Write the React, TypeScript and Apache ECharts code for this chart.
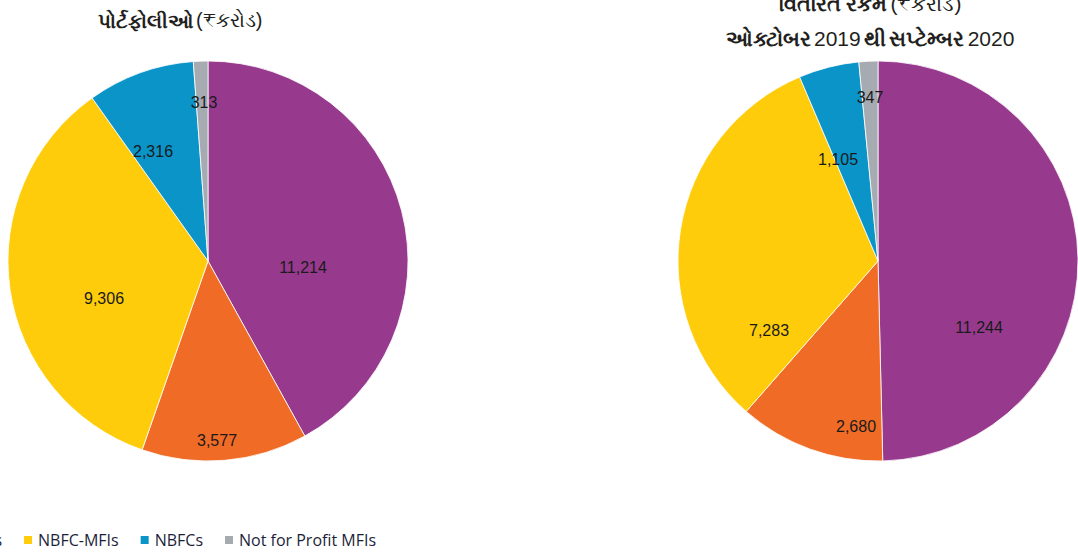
import React, { useEffect, useRef } from "react";
import * as echarts from "echarts";

const categories = ["Banks", "SFBs", "NBFC-MFIs", "NBFCs", "Not for Profit MFIs"];
const portfolioValues = [11214, 3577, 9306, 2316, 313];
const disbursedValues = [11244, 2680, 7283, 1105, 347];
const colors = ["#973A8E", "#F06B26", "#FECC0A", "#0B94C8", "#A6AAB1"];
const leftTitle = "પોર્ટફોલીઓ";
const rightTitleLine1 = "વિતરિત રકમ";
const rightTitleLine2a = "ઓક્ટોબર";
const rightTitleLine2b = "થી";
const rightTitleLine2c = "સપ્ટેમ્બર";

// label anchor placement, as fractions of the pie radius from the pie centre
const leftLabelAnchors = [
  [0.475, 0.03],
  [0.045, 0.895],
  [-0.52, 0.185],
  [-0.275, -0.55],
  [-0.02, -0.795],
];
const rightLabelAnchors = [
  [0.505, 0.33],
  [-0.11, 0.825],
  [-0.545, 0.345],
  [-0.2, -0.51],
  [-0.04, -0.82],
];

const fmt = (v: number) => v.toLocaleString("en-US");

export default function App() {
  const ref = useRef<HTMLDivElement>(null);
  useEffect(() => {
    if (!ref.current) return;
    const chart = echarts.init(ref.current, undefined, { renderer: "svg" });
    const R = 200;
    const mkData = (vals: number[]) =>
      categories.map((c, i) => ({ name: c, value: vals[i], itemStyle: { color: colors[i] } }));
    const mkPie = (name: string, cx: number, cy: number, vals: number[], anchors: number[][]) => ({
      type: "pie" as const,
      name,
      center: [cx, cy],
      radius: R,
      startAngle: 90,
      clockwise: true,
      avoidLabelOverlap: false,
      itemStyle: { borderColor: "#ffffff", borderWidth: 0.8 },
      label: {
        show: true,
        position: "outside",
        formatter: (p: any) => fmt(p.value),
        fontFamily: "Liberation Sans, Arial, sans-serif",
        fontSize: 16,
        color: "#1a1a1a",
      },
      labelLine: { show: false },
      labelLayout: (p: any) => {
        const a = anchors[p.dataIndex];
        return {
          x: cx + a[0] * R,
          y: cy + a[1] * R,
          align: "center",
          verticalAlign: "middle",
        };
      },
      emphasis: { disabled: true },
      data: mkData(vals),
    });
    const bold = { fontFamily: "Noto Sans, sans-serif", fontSize: 20, fontWeight: "bold" as const, fill: "#231F20" };
    const normal = { fontFamily: "Liberation Sans, Arial, sans-serif", fontSize: 20, fontWeight: "normal" as const, fill: "#231F20" };
    const bold2 = { ...bold, fontSize: 21 };
    const normal2 = { ...normal, fontSize: 21 };
    chart.setOption({
      animation: false,
      legend: {
        data: categories,
        left: -135,
        top: 527,
        icon: "rect",
        itemWidth: 10,
        itemHeight: 10,
        itemGap: 20,
        selectedMode: false,
        textStyle: { fontFamily: "Open Sans, sans-serif", fontSize: 16, color: "#1d1f3a" },
      },
      graphic: [
        {
          type: "text",
          x: 180,
          y: 20,
          style: {
            text: `{b|${leftTitle}} {n|(₹કરોડ)}`,
            textAlign: "center",
            textVerticalAlign: "middle",
            rich: { b: bold, n: normal },
          },
        },
        {
          type: "text",
          x: 870,
          y: 3,
          style: {
            text: `{b|${rightTitleLine1}} {n|(₹કરોડ)}`,
            textAlign: "center",
            textVerticalAlign: "middle",
            rich: { b: bold2, n: normal2 },
          },
        },
        {
          type: "text",
          x: 870,
          y: 38,
          style: {
            text: `{b|${rightTitleLine2a}} {n|2019} {b|${rightTitleLine2b}} {b|${rightTitleLine2c}} {n|2020}`,
            textAlign: "center",
            textVerticalAlign: "middle",
            rich: { b: bold2, n: normal2 },
          },
        },
      ],
      series: [
        mkPie("portfolio", 208, 261, portfolioValues, leftLabelAnchors),
        mkPie("disbursed", 878, 261, disbursedValues, rightLabelAnchors),
      ],
    });
    return () => chart.dispose();
  }, []);
  return (
    <div
      ref={ref}
      style={{ position: "fixed", left: 0, top: 0, width: 1078, height: 555, background: "#fff" }}
    />
  );
}
